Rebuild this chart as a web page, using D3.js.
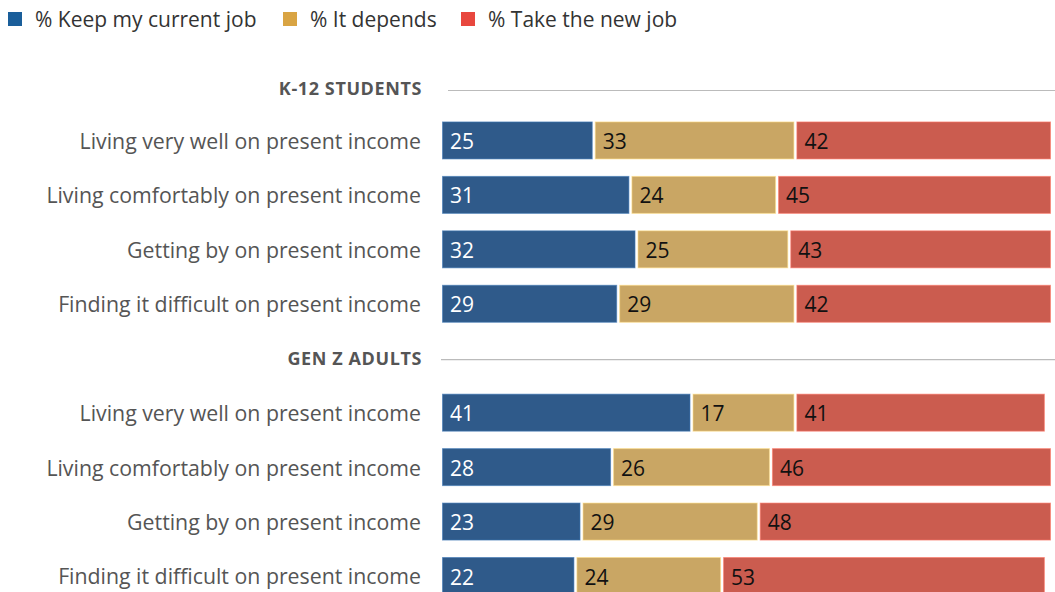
<!DOCTYPE html>
<html>
<head>
<meta charset="utf-8">
<script src="https://cdn.jsdelivr.net/npm/d3@7"></script>
<style>
  html, body { margin: 0; padding: 0; background: #fff; }
  svg { display: block; font-family: "Open Sans", "Noto Sans", sans-serif; }
</style>
</head>
<body>
<svg id="chart" width="1055" height="592"></svg>
<script>
// Survey: what respondents would do if offered a new job, by financial situation
const seriesNames = ["% Keep my current job", "% It depends", "% Take the new job"];
const groups = ["K-12 STUDENTS", "GEN Z ADULTS"];
const categories = [
  "Living very well on present income",
  "Living comfortably on present income",
  "Getting by on present income",
  "Finding it difficult on present income"
];
const keepCurrent = [25, 31, 32, 29, 41, 28, 23, 22];
const itDepends   = [33, 24, 25, 29, 17, 26, 29, 24];
const takeNew     = [42, 45, 43, 42, 41, 46, 48, 53];

const barColors    = ["#2f5a8a", "#c9a664", "#cb5c4f"];
const legendColors = ["#1a5e9a", "#d9a443", "#e8473e"];
const labelColors  = ["#ffffff", "#111111", "#111111"];

const svg = d3.select("#chart");

// Legend
const legendX = [8, 283, 461];
const legend = svg.append("g");
seriesNames.forEach((name, i) => {
  legend.append("rect")
    .attr("x", legendX[i]).attr("y", 12)
    .attr("width", 14).attr("height", 14)
    .attr("fill", legendColors[i]);
  legend.append("text")
    .attr("x", legendX[i] + 27).attr("y", 27)
    .attr("font-size", 21).attr("fill", "#333")
    .text(name);
});

// Row layout: header + 4 rows per group, on a shared index
const rows = [];
groups.forEach((g, gi) => {
  rows.push({ type: "header", label: g, idx: gi * 5 });
  categories.forEach((c, ci) => {
    const k = gi * 4 + ci;
    rows.push({
      type: "bar", label: c, idx: gi * 5 + ci + 1,
      values: [keepCurrent[k], itDepends[k], takeNew[k]]
    });
  });
});

const y = d3.scaleLinear().domain([0, 9]).range([86, 576]);
const x = d3.scaleLinear().domain([0, 100]).range([442, 1053]);
const barH = 38;
const gap = 2;

// Group headers with rule lines
const headerLineStart = [448, 441];
rows.filter(r => r.type === "header").forEach((r, gi) => {
  const cy = y(r.idx) + (gi === 0 ? 3 : 0);
  svg.append("text")
    .attr("x", 422).attr("y", cy)
    .attr("dy", "0.35em")
    .attr("text-anchor", "end")
    .attr("font-size", 18).attr("font-weight", "bold")
    .attr("letter-spacing", 0.6)
    .attr("fill", "#555")
    .text(r.label);
  svg.append("line")
    .attr("x1", headerLineStart[gi]).attr("x2", 1055)
    .attr("y1", cy + 1.5).attr("y2", cy + 1.5)
    .attr("stroke", "#bbb").attr("stroke-width", 1.2);
});

// Bars
const barRows = rows.filter(r => r.type === "bar");
const rowG = svg.selectAll("g.row").data(barRows).enter().append("g")
  .attr("class", "row")
  .attr("transform", d => `translate(0,${y(d.idx) - barH / 2})`);

rowG.append("text")
  .attr("x", 421).attr("y", barH / 2 + 1)
  .attr("dy", "0.35em")
  .attr("text-anchor", "end")
  .attr("font-size", 21.3).attr("fill", "#555")
  .text(d => d.label);

rowG.each(function(d) {
  const g = d3.select(this);
  let cum = 0;
  d.values.forEach((v, i) => {
    const x0 = x(cum), x1 = x(cum + v);
    cum += v;
    g.append("rect")
      .attr("x", x0 + 0.5).attr("y", 0.5)
      .attr("width", Math.max(0, x1 - x0 - gap - 1)).attr("height", barH - 1)
      .attr("fill", barColors[i])
      .attr("stroke", d3.color(barColors[i]).brighter(0.8))
      .attr("stroke-opacity", 0.6)
      .attr("stroke-width", 1);
    g.append("text")
      .attr("x", x0 + 8).attr("y", barH / 2 + 1)
      .attr("dy", "0.36em")
      .attr("font-size", 21)
      .attr("fill", labelColors[i])
      .text(v);
  });
});
</script>
</body>
</html>
